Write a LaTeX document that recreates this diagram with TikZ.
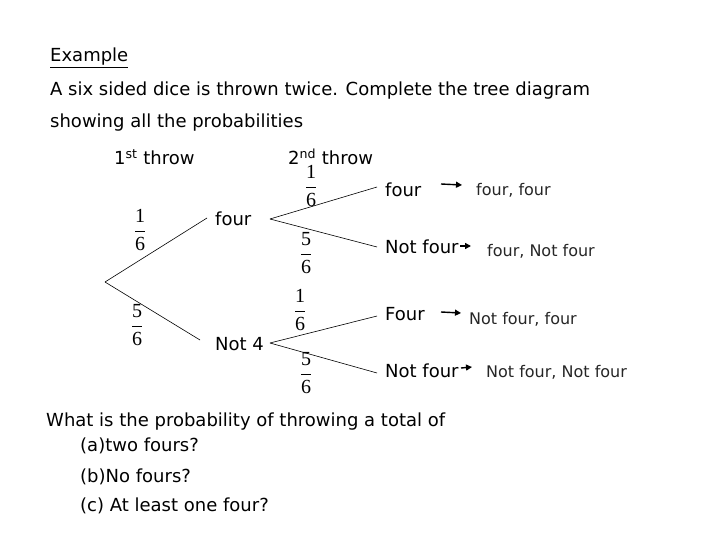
\documentclass[tikz,border=0pt]{standalone}
\usepackage{fontspec}
\setmainfont{DejaVu Sans}
\newfontfamily\fracfont{Liberation Serif}
\usetikzlibrary{arrows.meta}
\tikzset{
  txt/.style={anchor=west, inner sep=0pt, yshift=-2pt, font=\fontsize{18}{21}\selectfont},
  res/.style={anchor=west, inner sep=0pt, yshift=-1pt, font=\fontsize{16}{19}\selectfont, text=black!85},
  fr/.style={inner sep=0pt, font=\fontsize{20}{24}\selectfont},
  br/.style={line width=0.6pt},
  ar/.style={line width=1.4pt, -{Triangle[length=6pt,width=6pt]}},
}
\newcommand{\myfr}[2]{$\displaystyle\frac{\hbox{\fracfont #1}}{\hbox{\fracfont #2}}$}
\begin{document}
\begin{tikzpicture}[x=1pt,y=-1pt]
\useasboundingbox (0,0) rectangle (720,540);
\node[txt] (ex) at (50,56) {\underline{Example}};
\node[txt] (l1) at (50,89) {A six sided dice is thrown twice. Complete the tree diagram};
\node[txt] (l2) at (50,121) {showing all the probabilities};
\node[txt] (t1) at (114,155) {1\textsuperscript{st} throw};
\node[txt] (t2) at (288,155) {2\textsuperscript{nd} throw};
% tree
\coordinate (root) at (105,282);
\node[txt] (four) at (215,217) {four};
\node[txt] (not4) at (215,342) {Not 4};
\coordinate (fourL) at (207,218);
\coordinate (not4L) at (200,340);
\coordinate (fourR) at (270,219);
\coordinate (not4R) at (270,343);
\draw[br] (root) -- (fourL);
\draw[br] (root) -- (not4L);
\node[txt] (ff) at (385,188) {four};
\node[txt] (fn) at (385,245) {Not four};
\node[txt] (nf) at (385,312) {Four};
\node[txt] (nn) at (385,369) {Not four};
\coordinate (ffL) at (377,187);
\coordinate (fnL) at (377,247);
\coordinate (nfL) at (377,316);
\coordinate (nnL) at (377,373);
\draw[br] (fourR) -- (ffL);
\draw[br] (fourR) -- (fnL);
\draw[br] (not4R) -- (nfL);
\draw[br] (not4R) -- (nnL);
% fractions
\node[fr] (p1) at (140,230) {\myfr{1}{6}};
\node[fr] (p2) at (137,325) {\myfr{5}{6}};
\node[fr] (p3) at (311,186) {\myfr{1}{6}};
\node[fr] (p4) at (306,253) {\myfr{5}{6}};
\node[fr] (p5) at (300,310) {\myfr{1}{6}};
\node[fr] (p6) at (306,373) {\myfr{5}{6}};
% results
\node[res] (r1) at (476,189) {four, four};
\node[res] (r2) at (487,250) {four, Not four};
\node[res] (r3) at (469,318) {Not four, four};
\node[res] (r4) at (486,371) {Not four, Not four};
\coordinate (a1s) at (441,184); \coordinate (a1e) at (462,185);
\coordinate (a2s) at (460,246); \coordinate (a2e) at (471,246);
\coordinate (a3s) at (441,312); \coordinate (a3e) at (461,313);
\coordinate (a4s) at (461,368); \coordinate (a4e) at (472,367);
\draw[ar] (a1s) -- (a1e);
\draw[ar] (a2s) -- (a2e);
\draw[ar] (a3s) -- (a3e);
\draw[ar] (a4s) -- (a4e);
% questions
\node[txt] (q) at (46,420) {What is the probability of throwing a total of};
\node[txt] (qa) at (80,444) {(a)two fours?};
\node[txt] (qb) at (80,475) {(b)No fours?};
\node[txt] (qc) at (80,504) {(c) At least one four?};
\end{tikzpicture}
\end{document}
